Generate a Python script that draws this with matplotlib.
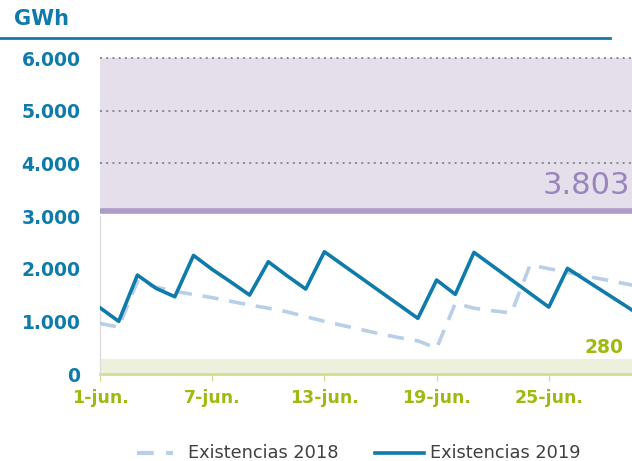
import matplotlib
matplotlib.use("Agg")
import matplotlib.pyplot as plt
from matplotlib.lines import Line2D
import numpy as np

# Data (GWh), daily from 1 June (day index 0)
days = list(range(30))
exist_2018 = [960, 890, 1760, 1650, 1570, 1510, 1450, 1380, 1310, 1250, 1180,
              1090, 1000, 920, 840, 760, 690, 630, 490, 1340, 1250, 1200, 1160,
              2070, 2000, 1930, 1860, 1790, 1720, 1650]
exist_2019 = [1258, 1000, 1878, 1626, 1467, 2252, 1986, 1746, 1499, 2131, 1866,
              1613, 2321, 2068, 1815, 1562, 1310, 1057, 1784, 1512, 2309, 2050,
              1790, 1530, 1271, 2005, 1776, 1547, 1318, 1089]
xtick_pos = [0, 6, 12, 18, 24]
xtick_labels = ["1-jun.", "7-jun.", "13-jun.", "19-jun.", "25-jun."]
ytick_vals = [0, 1000, 2000, 3000, 4000, 5000, 6000]
max_level = 3100
max_label = "3.803"
min_level = 280
min_label = "280"
series_names = ["Existencias 2018", "Existencias 2019"]

BLUE = "#0e7bab"
LIGHT = "#b9cfe8"
GREEN_T = "#9cba10"
PURPLE_BAND = "#e5dfec"
PURPLE_LINE = "#ae9cc8"
PURPLE_TXT = "#9a84bc"
GREEN_BAND = "#edf0dc"
GREEN_LINE = "#cfe190"

W, H = 632, 461
fig = plt.figure(figsize=(W / 100, H / 100), dpi=100)
ax = fig.add_axes([100 / W, 1 - 374 / H, (W - 100) / W, (374 - 58) / H])

ax.set_xlim(0, 28.45)
ax.set_ylim(0, 6000)

# bands
ax.axhspan(max_level, 6000, color=PURPLE_BAND, lw=0, zorder=0)
ax.axhline(max_level, color=PURPLE_LINE, lw=4, zorder=1)
ax.axhspan(0, min_level, color=GREEN_BAND, lw=0, zorder=0)
ax.axhline(0, color=GREEN_LINE, lw=2, zorder=1, clip_on=False)
for yv in [4000, 5000, 6000]:
    ax.axhline(yv, color="#888888", lw=1.4, ls=(0, (1, 2.2)), zorder=1, clip_on=False)

ax.plot(days, exist_2018, color=LIGHT, lw=2.6, ls=(0, (4.5, 3)), zorder=3)
ax.plot(days, exist_2019, color=BLUE, lw=2.6, zorder=4)

ax.text(28.35, max_level + 200, max_label, color=PURPLE_TXT, fontsize=22,
        ha="right", va="bottom")
ax.text(28.0, min_level + 40, min_label, color=GREEN_T, fontsize=13.5,
        fontweight="bold", ha="right", va="bottom")

for s in ["top", "right", "bottom"]:
    ax.spines[s].set_visible(False)
ax.spines["left"].set_color("#dddddd")
ax.spines["left"].set_linewidth(1)
ax.spines["left"].set_bounds(0, 3000)

ax.set_yticks(ytick_vals)
ax.set_yticklabels([f"{v:,.0f}".replace(",", ".") for v in ytick_vals],
                   color=BLUE, fontsize=13.5, fontweight="bold")
ax.tick_params(axis="y", length=0, pad=14)
ax.set_xticks(xtick_pos)
ax.set_xticklabels(xtick_labels, color=GREEN_T, fontsize=12.5, fontweight="bold")
ax.tick_params(axis="x", length=5, width=1, color=GREEN_LINE, pad=6)

# header
fig.text(14 / W, 1 - 19 / H, "GWh", color=BLUE, fontsize=15, fontweight="bold",
         ha="left", va="center")
fig.add_artist(Line2D([0, 610 / W], [1 - 38 / H, 1 - 38 / H], color=BLUE, lw=2))

# legend (drawn manually for exact placement)
ly = 1 - 453 / H
fig.add_artist(Line2D([137 / W, 173 / W], [ly, ly], color=LIGHT, lw=3,
                      ls=(0, (4, 3))))
fig.text(188 / W, ly, series_names[0], color="#404040", fontsize=12.8,
         ha="left", va="center")
fig.add_artist(Line2D([375 / W, 424 / W], [ly, ly], color=BLUE, lw=2.6))
fig.text(430 / W, ly, series_names[1], color="#404040", fontsize=12.8,
         ha="left", va="center")

fig.savefig("out.png", dpi=100)
